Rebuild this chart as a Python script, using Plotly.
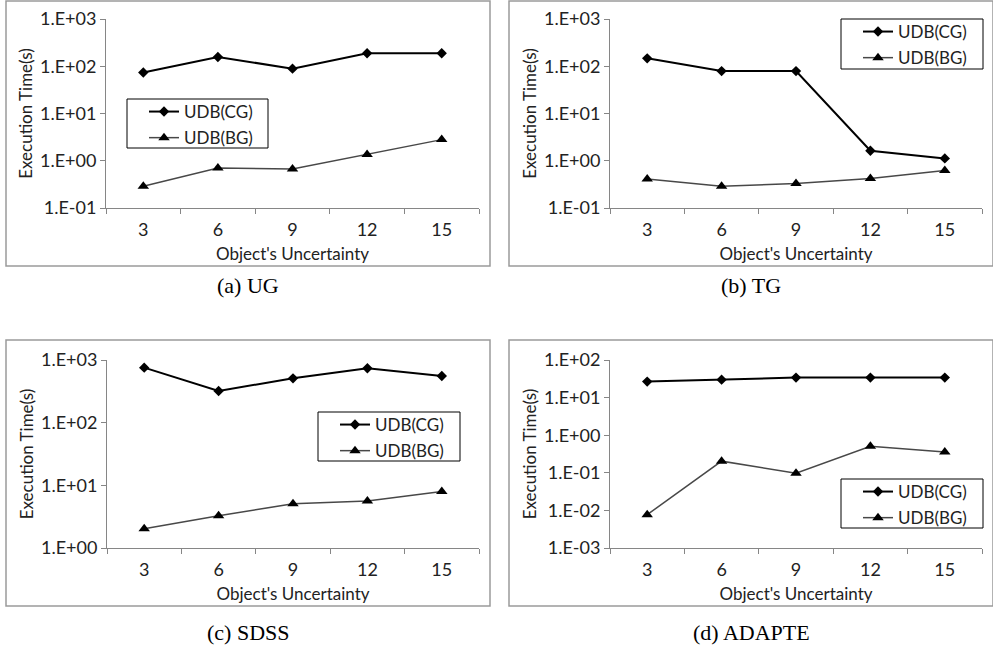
import plotly.graph_objects as go

W, H = 993, 650

categories = ["3", "6", "9", "12", "15"]

ug_cg = [74, 157, 89, 188, 188]
ug_bg = [0.29, 0.70, 0.67, 1.35, 2.8]
tg_cg = [147, 79, 79, 1.63, 1.12]
tg_bg = [0.41, 0.29, 0.33, 0.42, 0.62]
sdss_cg = [755, 321, 510, 737, 556]
sdss_bg = [2.03, 3.27, 5.08, 5.6, 7.98]
adapte_cg = [26.6, 30, 34, 34, 34]
adapte_bg = [0.0077, 0.204, 0.098, 0.51, 0.36]

ticks_ug_tg_vals = [0.1, 1, 10, 100, 1000]
ticks_ug_tg_text = ["1.E-01", "1.E+00", "1.E+01", "1.E+02", "1.E+03"]
ticks_sdss_vals = [1, 10, 100, 1000]
ticks_sdss_text = ["1.E+00", "1.E+01", "1.E+02", "1.E+03"]
ticks_adapte_vals = [0.001, 0.01, 0.1, 1, 10, 100]
ticks_adapte_text = ["1.E-03", "1.E-02", "1.E-01", "1.E+00", "1.E+01", "1.E+02"]

series_names = ["UDB(CG)", "UDB(BG)"]
captions = ["(a) UG", "(b) TG", "(c) SDSS", "(d) ADAPTE"]

FONT = "Lato"
AXIS_GRAY = "#868686"


def px(x):
    return x / W


def py(y):
    return 1 - y / H


panels = [
    dict(cg=ug_cg, bg=ug_bg, tv=ticks_ug_tg_vals, tt=ticks_ug_tg_text, yr=[-1, 3],
         plot=(106, 479, 19, 208), box=(6, 490, 1, 266), leg=(127, 268, 99, 148), cap=285),
    dict(cg=tg_cg, bg=tg_bg, tv=ticks_ug_tg_vals, tt=ticks_ug_tg_text, yr=[-1, 3],
         plot=(610, 982, 19, 208), box=(509, 993, 1, 266), leg=(841, 983, 19, 69), cap=285),
    dict(cg=sdss_cg, bg=sdss_bg, tv=ticks_sdss_vals, tt=ticks_sdss_text, yr=[0, 3],
         plot=(107, 479, 360, 548), box=(6, 490, 340, 606), leg=(318, 460, 412, 461), cap=632),
    dict(cg=adapte_cg, bg=adapte_bg, tv=ticks_adapte_vals, tt=ticks_adapte_text, yr=[-3, 2],
         plot=(610, 982, 360, 548), box=(509, 993, 340, 606), leg=(841, 983, 479, 528), cap=632),
]

fig = go.Figure()
layout = dict(
    width=W, height=H, margin=dict(l=0, r=0, t=0, b=0, autoexpand=False),
    paper_bgcolor="white", plot_bgcolor="white",
    font=dict(family=FONT, color="#222222"),
    shapes=[], annotations=[],
)

for i, p in enumerate(panels):
    n = i + 1
    sfx = "" if n == 1 else str(n)
    xa, ya = "x" + sfx, "y" + sfx
    legname = "legend" + sfx
    x0, x1, y0, y1 = p["plot"]

    fig.add_trace(go.Scatter(
        x=categories, y=p["cg"], name=series_names[0], mode="lines+markers",
        line=dict(color="black", width=2),
        marker=dict(symbol="diamond", size=8, color="black"),
        xaxis=xa, yaxis=ya, legend=legname, legendgroup=f"{n}cg"))
    fig.add_trace(go.Scatter(
        x=categories, y=p["bg"], name=series_names[1], mode="lines+markers",
        line=dict(color="#484848", width=1.5),
        marker=dict(symbol="triangle-up", size=10, color="black"),
        xaxis=xa, yaxis=ya, legend=legname, legendgroup=f"{n}bg"))

    layout["xaxis" + sfx] = dict(
        domain=[px(x0), px(x1)], anchor=ya, type="category",
        range=[-0.5, 4.5], tickson="boundaries", ticks="outside", ticklen=5,
        tickcolor=AXIS_GRAY, showline=True, linecolor=AXIS_GRAY, linewidth=1,
        showgrid=False, zeroline=False, tickfont=dict(size=18, family=FONT),
        ticklabelstandoff=5,
        title=dict(text="Object's Uncertainty", font=dict(size=17, family=FONT), standoff=9),
    )
    layout["yaxis" + sfx] = dict(
        domain=[py(y1), py(y0)], anchor=xa, type="log", range=p["yr"],
        tickvals=p["tv"], ticktext=p["tt"], ticks="outside", ticklen=5,
        tickcolor=AXIS_GRAY, showline=True, linecolor=AXIS_GRAY, linewidth=1,
        showgrid=False, zeroline=False, tickfont=dict(size=18, family=FONT),
        title=dict(text="Execution Time(s)", font=dict(size=17, family=FONT), standoff=3),
    )

    lx0, lx1, ly0, ly1 = p["leg"]
    layout[legname] = dict(
        x=px(lx0 + 17), y=py(ly0 - 5), xanchor="left", yanchor="top",
        bgcolor="rgba(0,0,0,0)", borderwidth=0, tracegroupgap=1,
        font=dict(size=17, family=FONT, color="#222222"), itemwidth=30,
    )
    layout["shapes"].append(dict(
        type="rect", xref="paper", yref="paper",
        x0=px(lx0), x1=px(lx1), y0=py(ly1), y1=py(ly0),
        line=dict(color="black", width=1), fillcolor="rgba(0,0,0,0)"))

    bx0, bx1, by0, by1 = p["box"]
    layout["shapes"].append(dict(
        type="rect", xref="paper", yref="paper",
        x0=px(bx0), x1=px(bx1), y0=py(by1), y1=py(by0),
        line=dict(color="#9a9a9a", width=1.5), fillcolor="rgba(0,0,0,0)"))

    layout["annotations"].append(dict(
        text=captions[i], xref="paper", yref="paper",
        x=px((bx0 + bx1) / 2), y=py(p["cap"]), xanchor="center", yanchor="middle",
        showarrow=False, font=dict(family="Liberation Serif", size=22, color="black")))

fig.update_layout(**layout)
fig.write_html("out.html")
